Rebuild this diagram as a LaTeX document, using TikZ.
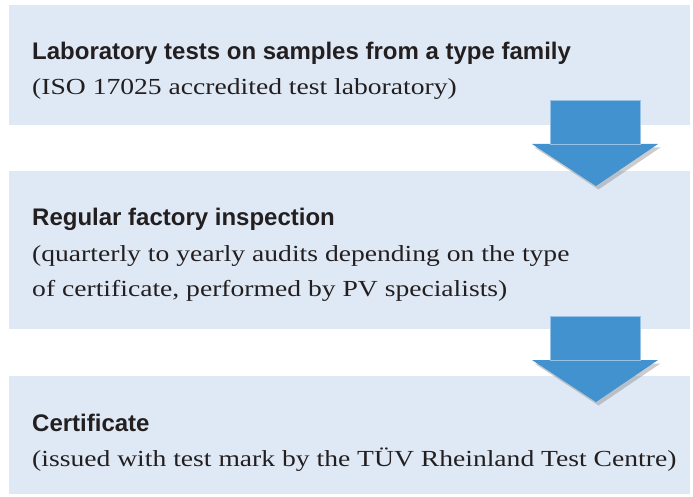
\documentclass[tikz,border=0pt]{standalone}
\usepackage{fontspec}
\setmainfont{Liberation Serif}[FakeStretch=1.2]
\newfontfamily\headfont{Liberation Sans}
\usetikzlibrary{shadows}
\definecolor{boxblue}{HTML}{DFE9F5}
\definecolor{arrowblue}{HTML}{4192CF}
\definecolor{inkgrey}{HTML}{231F20}

\begin{document}
\begin{tikzpicture}[
    x=1pt, y=1pt,
    stage/.style={fill=boxblue, minimum width=681pt, inner sep=0pt},
    heading/.style={anchor=base west, inner sep=0pt, text=inkgrey,
      font=\headfont\bfseries\fontsize{24}{24}\selectfont},
    detail/.style={anchor=base west, inner sep=0pt, text=inkgrey,
      font=\fontsize{23}{23}\selectfont},
    blockarrow/.style={fill=arrowblue, draw=arrowblue!55!white, line width=.6pt}
  ]
  \useasboundingbox (0,0) rectangle (693,496);
  % the three stages
  \node[stage, minimum height=120pt] (lab) at (349.5,431) {};
  \node[stage, minimum height=158pt] (factory) at (349.5,246) {};
  \node[stage, minimum height=118pt] (cert) at (349.5,61) {};
  % arrows between the stages
  \foreach \top in {396,180} {
    \fill[blockarrow, draw=none,
      drop shadow={opacity=.4, shadow xshift=2.5pt, shadow yshift=-3.5pt}]
      (532,\top-44) -- (658,\top-44) -- (596,\top-86) -- cycle;
    \filldraw[blockarrow] (550,\top-44) rectangle (640,\top);
  }
  % texts
  \node[heading] (labhead) at (32,436) {Laboratory tests on samples from a type family};
  \node[detail] (labtext) at ([yshift=-35pt]labhead.base west) {(ISO 17025 accredited test laboratory)};
  \node[heading] (factoryhead) at (32,270) {Regular factory inspection};
  \node[detail] (factorytext) at ([yshift=-35pt]factoryhead.base west) {(quarterly to yearly audits depending on the type};
  \node[detail] (factorymore) at ([yshift=-35pt]factorytext.base west) {of certificate, performed by PV specialists)};
  \node[heading] (certhead) at (32,65) {Certificate};
  \node[detail] (certtext) at ([yshift=-35pt]certhead.base west) {(issued with test mark by the TÜV Rheinland Test Centre)};
\end{tikzpicture}
\end{document}
